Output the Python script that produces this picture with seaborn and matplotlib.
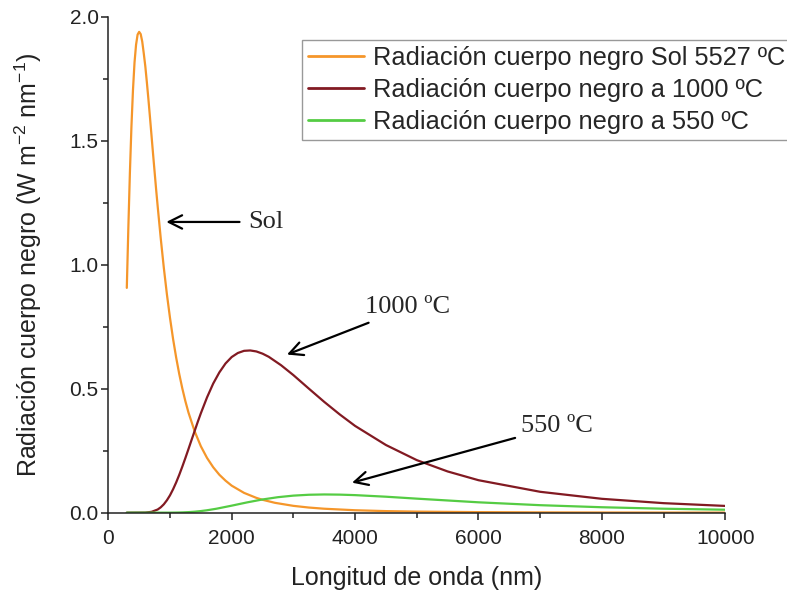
import matplotlib
matplotlib.use("Agg")
import matplotlib.pyplot as plt
from matplotlib.ticker import MultipleLocator
from matplotlib import font_manager
import seaborn as sns
import pandas as pd

# ---- data ----
wl_sol = [300, 325, 350, 375, 400, 425, 450, 475, 500, 525, 550, 575, 600, 625, 650, 675,
          700, 725, 750, 775, 800, 850, 900, 950, 1000, 1050, 1100, 1150, 1200, 1250, 1300,
          1400, 1500, 1600, 1700, 1800, 1900, 2000, 2200, 2400, 2500, 2700, 3000, 3250,
          3500, 4000, 4500, 5000, 6000, 7000, 8000, 10000]
rad_sol = [0.907, 1.149, 1.370, 1.557, 1.705, 1.816, 1.888, 1.929, 1.940, 1.931, 1.901,
           1.853, 1.801, 1.737, 1.669, 1.597, 1.523, 1.449, 1.377, 1.305, 1.237, 1.107,
           0.988, 0.881, 0.786, 0.7008, 0.626, 0.5594, 0.501, 0.4492, 0.4036, 0.328, 0.268,
           0.221, 0.1834, 0.153, 0.1292, 0.109, 0.0799, 0.0597, 0.052, 0.0398, 0.0275,
           0.0207, 0.0159, 0.0098, 0.0063, 0.0043, 0.0022, 0.0012, 0.0007, 0.0003]

wl_1000 = [300, 600, 700, 800, 850, 900, 950, 1000, 1050, 1100, 1150, 1200, 1250, 1300,
           1350, 1400, 1450, 1500, 1600, 1700, 1800, 1900, 2000, 2100, 2200, 2300, 2400,
           2500, 2600, 2800, 3000, 3250, 3500, 3750, 4000, 4500, 5000, 5500, 6000, 7000,
           8000, 9000, 10000]
rad_1000 = [0.0, 0.0005, 0.0033, 0.0127, 0.0216, 0.0338, 0.0501, 0.070, 0.0944, 0.122,
            0.1527, 0.186, 0.2209, 0.257, 0.2938, 0.330, 0.3663, 0.401, 0.465, 0.5208,
            0.566, 0.602, 0.628, 0.6443, 0.653, 0.6545, 0.6505, 0.6416, 0.629, 0.595,
            0.555, 0.5006, 0.447, 0.3966, 0.350, 0.273, 0.212, 0.1663, 0.131, 0.0842,
            0.0559, 0.0384, 0.0272]

wl_550 = [300, 1000, 1100, 1200, 1300, 1400, 1500, 1600, 1750, 2000, 2250, 2500, 2750,
          3000, 3250, 3500, 3750, 4000, 4500, 5000, 6000, 7000, 8000, 9000, 10000]
rad_550 = [0.0, 0.00015, 0.00044, 0.00107, 0.0022, 0.00397, 0.0065, 0.0097, 0.0158,
           0.0283, 0.0415, 0.0533, 0.0625, 0.0688, 0.0723, 0.0735, 0.0728, 0.0708, 0.0644,
           0.0566, 0.0418, 0.0302, 0.0219, 0.0160, 0.0119]

labels = ["Radiación cuerpo negro Sol 5527 ºC",
          "Radiación cuerpo negro a 1000 ºC",
          "Radiación cuerpo negro a 550 ºC"]
colors = ["#F5962A", "#821A22", "#55CC44"]

x_ticks = [0, 2000, 4000, 6000, 8000, 10000]
y_ticks = [0.0, 0.5, 1.0, 1.5, 2.0]

df = pd.concat([
    pd.DataFrame({"wl": wl_sol, "rad": rad_sol, "serie": labels[0]}),
    pd.DataFrame({"wl": wl_1000, "rad": rad_1000, "serie": labels[1]}),
    pd.DataFrame({"wl": wl_550, "rad": rad_550, "serie": labels[2]}),
], ignore_index=True)

sns.set_style("ticks")
plt.rcParams["font.family"] = ["Liberation Sans", "DejaVu Sans"]
plt.rcParams["mathtext.fontset"] = "custom"
plt.rcParams["mathtext.rm"] = "Liberation Sans"

available = {f.name for f in font_manager.fontManager.ttflist}
if "Liberation Sans Narrow" in available:
    xtick_family, xtick_size = ["Liberation Sans Narrow", "Liberation Sans"], 17
else:
    xtick_family, xtick_size = ["Liberation Sans", "DejaVu Sans"], 15

fig = plt.figure(figsize=(7.87, 5.92), dpi=100)
ax = fig.add_axes([0.1376, 0.1340, 0.9216 - 0.1376, 0.9713 - 0.1340])

sns.lineplot(data=df, x="wl", y="rad", hue="serie", palette=colors, hue_order=labels,
             linewidth=1.6, ax=ax, sort=False, estimator=None)

ax.set_xlim(0, 10000)
ax.set_ylim(0, 2.0)
ax.set_xticks(x_ticks)
ax.set_xticklabels([str(v) for v in x_ticks], family=xtick_family, fontsize=xtick_size)
ax.set_yticks(y_ticks)
ax.set_yticklabels([f"{v:.1f}" for v in y_ticks], fontsize=15)
ax.xaxis.set_minor_locator(MultipleLocator(1000))
ax.yaxis.set_minor_locator(MultipleLocator(0.25))
ax.tick_params(which="major", direction="out", length=5, width=1.1, colors="#222222")
ax.tick_params(which="minor", direction="out", length=3.5, width=1.1, colors="#222222")
ax.tick_params(axis="x", which="major", pad=7)
ax.tick_params(axis="y", which="major", pad=2)
for s in ["left", "bottom"]:
    ax.spines[s].set_linewidth(1.1)
    ax.spines[s].set_color("#222222")
sns.despine(ax=ax)

ax.set_xlabel("Longitud de onda (nm)", fontsize=18, color="#222222")
ax.set_ylabel("Radiación cuerpo negro (W m$^{-2}$ nm$^{-1}$)", fontsize=18, color="#222222")
ax.xaxis.set_label_coords(0.5, -0.108)
ax.yaxis.set_label_coords(-0.104, 0.5)

leg = ax.legend(loc="upper left", bbox_to_anchor=(302 / 787, 1 - 40 / 592),
                bbox_transform=fig.transFigure, fontsize=18.3, frameon=True,
                fancybox=False, borderpad=0.25, labelspacing=0.3, handlelength=2.2,
                handletextpad=0.35, borderaxespad=0)
leg.get_frame().set_edgecolor("#808080")
leg.get_frame().set_linewidth(1.0)
for line in leg.get_lines():
    line.set_linewidth(2.0)

serif = ["Liberation Serif", "DejaVu Serif"]
arrow = dict(arrowstyle="->", lw=1.6, color="black", mutation_scale=24)
ax.annotate("Sol", xy=(940, 1.173), xytext=(2270, 1.173), fontsize=19, family=serif,
            va="center", ha="left", arrowprops=dict(arrow, shrinkA=4, shrinkB=0))
ax.annotate("1000 ºC", xy=(2896, 0.638), xytext=(4165, 0.828), fontsize=19, family=serif,
            va="center", ha="left", arrowprops=dict(arrow, shrinkA=2, shrinkB=0))
ax.annotate("550 ºC", xy=(3950, 0.121), xytext=(6690, 0.348), fontsize=19, family=serif,
            va="center", ha="left", arrowprops=dict(arrow, shrinkA=2, shrinkB=0))

fig.savefig("out.png", dpi=100)
